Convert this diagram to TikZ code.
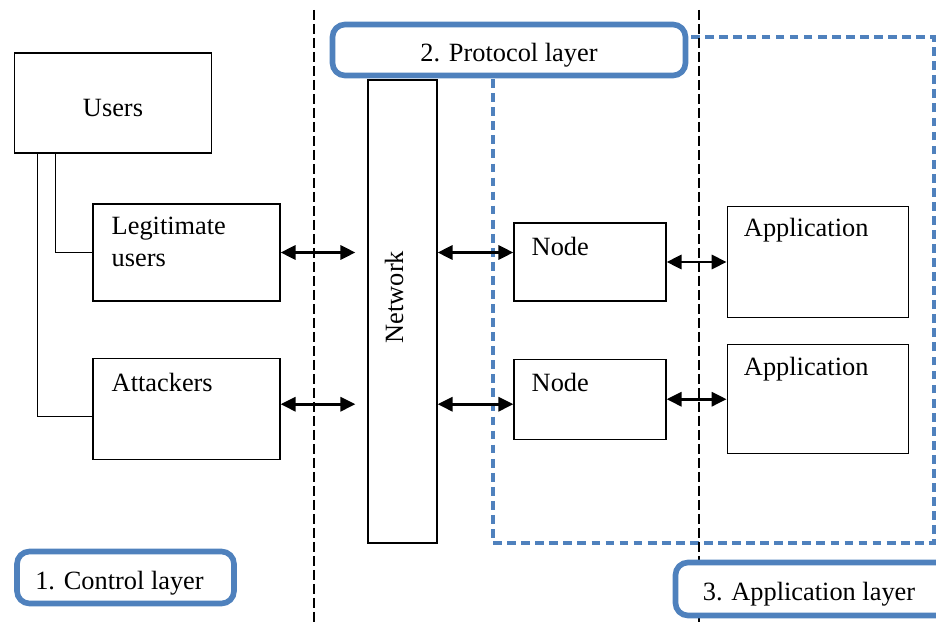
\documentclass[tikz,border=0pt]{standalone}
\usepackage{fontspec}
\setmainfont{Liberation Serif}
\usetikzlibrary{positioning,arrows.meta}
\definecolor{layerblue}{RGB}{79,129,189}
\tikzset{box/.style={rectangle,draw,line width=0.7pt,fill=white,inner sep=0pt},
         boxtext/.style={anchor=base west,inner sep=0pt},
         layer/.style={rectangle,draw=layerblue,line width=3.2pt,rounded corners=0.25cm,fill=white,inner sep=0pt},
         border/.style={dashed,dash pattern=on 0.2cm off 0.08cm,line width=1.6pt},
         link/.style={line width=0.7pt},
         flow/.style={line width=1.6pt,{Triangle[length=8.5pt,width=8pt]}-{Triangle[length=8.5pt,width=8pt]}}}

\begin{document}
\begin{tikzpicture}[font=\fontsize{15pt}{18pt}\selectfont]
            \useasboundingbox (0,0) rectangle (18.72,-12.44);
            \draw[layerblue,dashed,dash pattern=on 5pt off 3pt,line width=2pt] (9.86,-0.74) rectangle (18.68,-10.86);
            \draw[border] (6.28,-0.2) -- (6.28,-12.44);
            \draw[border] (13.98,-0.2) -- (13.98,-12.44);

            \node[box,minimum width=3.94cm,minimum height=2cm] (users) at (2.26,-2.06) {};
            \node[box,minimum width=3.74cm,minimum height=1.94cm] (legit) at (3.73,-5.05) {};
            \node[box,minimum width=3.74cm,minimum height=2.02cm] (attack) [below = 1.12cm of legit] {};
            \node[box,minimum width=1.38cm,minimum height=9.26cm] (netw) at (8.05,-6.23) {};
            \node[box,minimum width=3.04cm,minimum height=1.56cm] (nodea) at (11.8,-5.24) {};
            \node[box,minimum width=3.04cm,minimum height=1.6cm] (nodeb) [below = 1.14cm of nodea] {};
            \node[box,minimum width=3.62cm,minimum height=2.22cm] (appa) [right = 1.2cm of nodea] {};
            \node[box,minimum width=3.62cm,minimum height=2.18cm] (appb) [below = 0.52cm of appa] {};

            \node[inner sep=0pt] (userstext) at ([yshift=-0.1cm]users.center) {Users};
            \node[boxtext,align=left] (legittext) at ([shift={(0.38,-1.26)}]legit.north west) {Legitimate\\users};
            \node[boxtext] (attacktext) at ([shift={(0.38,-0.68)}]attack.north west) {Attackers};
            \node[boxtext] (nodeatext) at ([shift={(0.36,-0.66)}]nodea.north west) {Node};
            \node[boxtext] (nodebtext) at ([shift={(0.36,-0.66)}]nodeb.north west) {Node};
            \node[boxtext] (appatext) at ([shift={(0.34,-0.62)}]appa.north west) {Application};
            \node[boxtext] (appbtext) at ([shift={(0.34,-0.62)}]appb.north west) {Application};
            \node[rotate=90,inner sep=0pt] (netwtext) at (7.88,-5.94) {Network};

            \node[layer,minimum width=7.06cm,minimum height=1.02cm] (protocol) at (10.18,-1.0) {};
            \node[layer,minimum width=4.34cm,minimum height=1.04cm] (control) at (2.51,-11.55) {};
            \node[layer,minimum width=5.5cm,minimum height=1.06cm] (application) at (16.26,-11.78) {};
            \node (protocoltext) at ([yshift=-0.1cm]protocol.center) {2. Protocol layer};
            \node (controltext) at ([shift={(-0.12,-0.11)}]control.center) {1. Control layer};
            \node (applicationtext) at ([shift={(-0.08,-0.1)}]application.center) {3. Application layer};

            \coordinate (low) at ([yshift=0.09cm]attack.east);
            \draw[link] ([xshift=0.48cm]users.south west) |- ([yshift=-0.15cm]attack.west);
            \draw[link] ([xshift=0.84cm]users.south west) |- (legit.west);

            \draw[flow,shorten >=0.24cm] (legit.east) -- (legit.east -| netw.west);
            \draw[flow,shorten >=0.24cm] (low) -- (low -| netw.west);
            \draw[flow] (netw.east |- legit.east) -- (nodea.west |- legit.east);
            \draw[flow] (netw.east |- low) -- (nodeb.west |- low);
            \draw[flow] (nodea.east) -- (appa.west |- nodea.east);
            \draw[flow] (nodeb.east) -- (appb.west |- nodeb.east);
        \end{tikzpicture}
\end{document}
